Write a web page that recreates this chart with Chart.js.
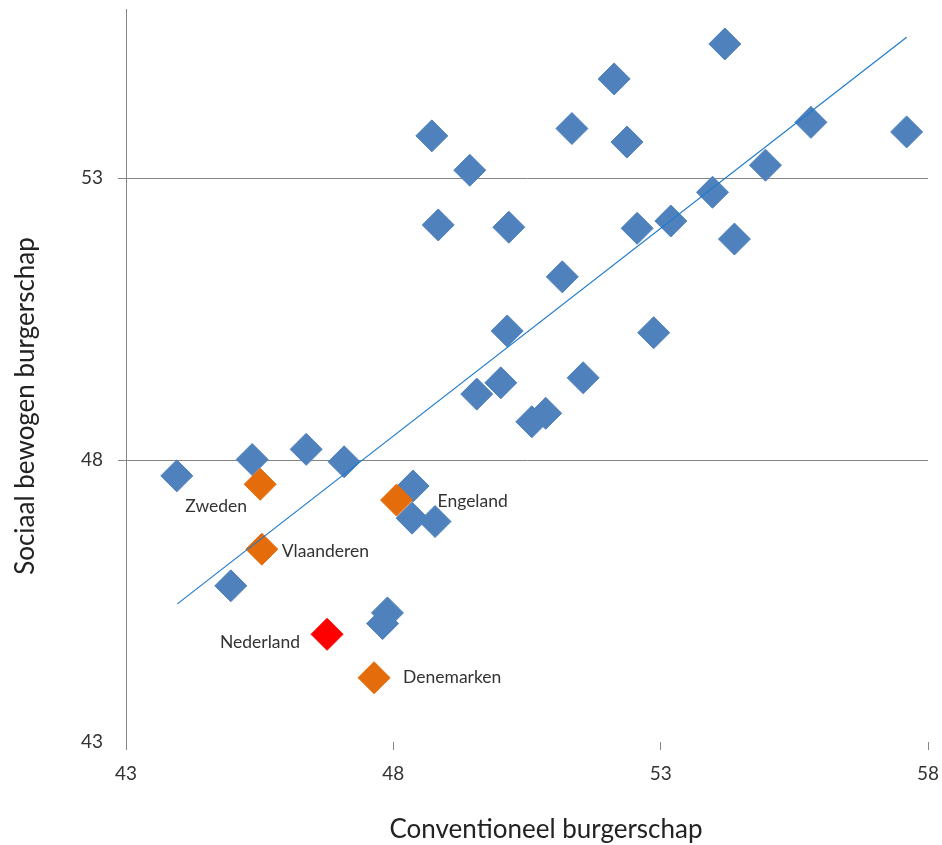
<!DOCTYPE html>
<html>
<head>
<meta charset="utf-8">
<script src="https://cdn.jsdelivr.net/npm/chart.js@4.4.1/dist/chart.umd.min.js"></script>
<style>
  html, body { margin: 0; padding: 0; background: #fff; }
  #wrap { width: 942px; height: 845px; }
</style>
</head>
<body>
<div id="wrap"><canvas id="burgerschapChart" width="942" height="845"></canvas></div>
<script>
const xTicks = [43, 48, 53, 58];
const yTicks = [43, 48, 53];

// overige landen
const blueX = [43.95, 44.96, 45.36, 46.37, 47.08, 48.37, 48.35, 48.78, 47.89, 47.80,
    48.72, 49.43, 48.84, 50.16, 51.34, 52.13, 52.37, 52.56, 53.19, 51.16,
    50.13, 52.87, 50.01, 49.56, 51.55, 50.59, 50.85, 54.20, 55.81, 57.60,
    54.96, 53.97, 54.38];
const blueY = [47.72, 45.77, 48.01, 48.19, 47.97, 47.54, 46.97, 46.91, 45.29, 45.10,
    53.75, 53.14, 52.17, 52.13, 53.88, 54.76, 53.64, 52.11, 52.24, 51.25,
    50.29, 50.26, 49.37, 49.17, 49.46, 48.68, 48.83, 55.38, 53.99, 53.82,
    53.23, 52.75, 51.92];

// vergelijkingslanden
const orangeLabels = ['Zweden', 'Engeland', 'Vlaanderen', 'Denemarken'];
const orangeX = [45.51, 48.06, 45.54, 47.64];
const orangeY = [47.57, 47.29, 46.42, 44.14];

const redLabels = ['Nederland'];
const redX = [46.76];
const redY = [44.91];

// trendlijn (eindpunten)
const trendX = [43.96, 57.60];
const trendY = [45.45, 55.50];

const toPoints = (xs, ys) => xs.map((x, i) => ({ x: x, y: ys[i] }));

// label placement relative to the marker (px)
const labelPlacement = {
    'Zweden':     { dx: -44, dy: 22, align: 'center' },
    'Engeland':   { dx: 41,  dy: 1,  align: 'left' },
    'Vlaanderen': { dx: 20,  dy: 2,  align: 'left' },
    'Denemarken': { dx: 29,  dy: 0,  align: 'left' },
    'Nederland':  { dx: -27, dy: 8,  align: 'right' }
};

const pointLabels = {
    id: 'pointLabels',
    afterDatasetsDraw(chart) {
        const ctx = chart.ctx;
        ctx.save();
        ctx.font = '17.5px Lato';
        ctx.fillStyle = '#333';
        ctx.textBaseline = 'middle';
        chart.data.datasets.forEach((ds, i) => {
            if (!ds.names) return;
            const meta = chart.getDatasetMeta(i);
            meta.data.forEach((el, j) => {
                const name = ds.names[j];
                const p = labelPlacement[name];
                ctx.textAlign = p.align;
                ctx.fillText(name, el.x + p.dx, el.y + p.dy);
            });
        });
        ctx.restore();
    }
};

const axisTitles = {
    id: 'axisTitles',
    afterDraw(chart) {
        const ctx = chart.ctx;
        ctx.save();
        ctx.font = '26px Lato';
        ctx.fillStyle = '#222';
        ctx.textAlign = 'center';
        ctx.textBaseline = 'middle';
        ctx.fillText('Conventioneel burgerschap', 546, 830);
        ctx.translate(26, 406);
        ctx.rotate(-Math.PI / 2);
        ctx.fillText('Sociaal bewogen burgerschap', 0, 0);
        ctx.restore();
    }
};

document.addEventListener('DOMContentLoaded', () => {
    const ctx = document.getElementById('burgerschapChart');

    new Chart(ctx, {
        type: 'scatter',
        data: {
            datasets: [
                {
                    type: 'line',
                    data: toPoints(trendX, trendY),
                    borderColor: '#1f7bcc',
                    borderWidth: 1.2,
                    pointRadius: 0,
                    fill: false
                },
                {
                    data: toPoints(redX, redY),
                    names: redLabels,
                    pointStyle: 'rectRot',
                    pointRadius: 16,
                    backgroundColor: '#ff0000',
                    borderColor: '#ff0000',
                    borderWidth: 1
                },
                {
                    data: toPoints(orangeX, orangeY),
                    names: orangeLabels,
                    pointStyle: 'rectRot',
                    pointRadius: 16,
                    backgroundColor: '#e46c0a',
                    borderColor: '#e46c0a',
                    borderWidth: 1
                },
                {
                    data: toPoints(blueX, blueY),
                    pointStyle: 'rectRot',
                    pointRadius: 16,
                    backgroundColor: '#4f81bd',
                    borderColor: '#4f81bd',
                    borderWidth: 1
                }
            ]
        },
        options: {
            responsive: false,
            animation: false,
            layout: {
                autoPadding: false,
                padding: { top: 9, right: 14, left: 0, bottom: 0 }
            },
            plugins: {
                legend: { display: false },
                tooltip: { enabled: false }
            },
            scales: {
                x: {
                    min: 43,
                    max: 58,
                    afterBuildTicks: (scale) => { scale.ticks = xTicks.map(v => ({ value: v })); },
                    afterFit: (scale) => {
                        scale.height = 103;
                        scale.paddingLeft = 0;
                        scale.paddingRight = 0;
                    },
                    border: { display: false },
                    grid: {
                        drawOnChartArea: false,
                        drawTicks: true,
                        tickLength: 8,
                        color: '#868686'
                    },
                    ticks: {
                        padding: 12,
                        maxRotation: 0,
                        color: '#333',
                        font: { family: 'Lato', size: 19 }
                    }
                },
                y: {
                    min: 43,
                    max: 56,
                    afterBuildTicks: (scale) => { scale.ticks = yTicks.map(v => ({ value: v })); },
                    afterFit: (scale) => {
                        scale.width = 126;
                        scale.paddingTop = 0;
                        scale.paddingBottom = 0;
                    },
                    border: { display: true, color: '#868686', width: 1 },
                    grid: {
                        drawTicks: true,
                        tickLength: 8,
                        color: (c) => c.tick && c.tick.value === 43 ? 'rgba(0,0,0,0)' : '#868686'
                    },
                    ticks: {
                        padding: 15,
                        color: '#333',
                        font: { family: 'Lato', size: 19 }
                    }
                }
            }
        },
        plugins: [pointLabels, axisTitles]
    });
});
</script>
</body>
</html>
